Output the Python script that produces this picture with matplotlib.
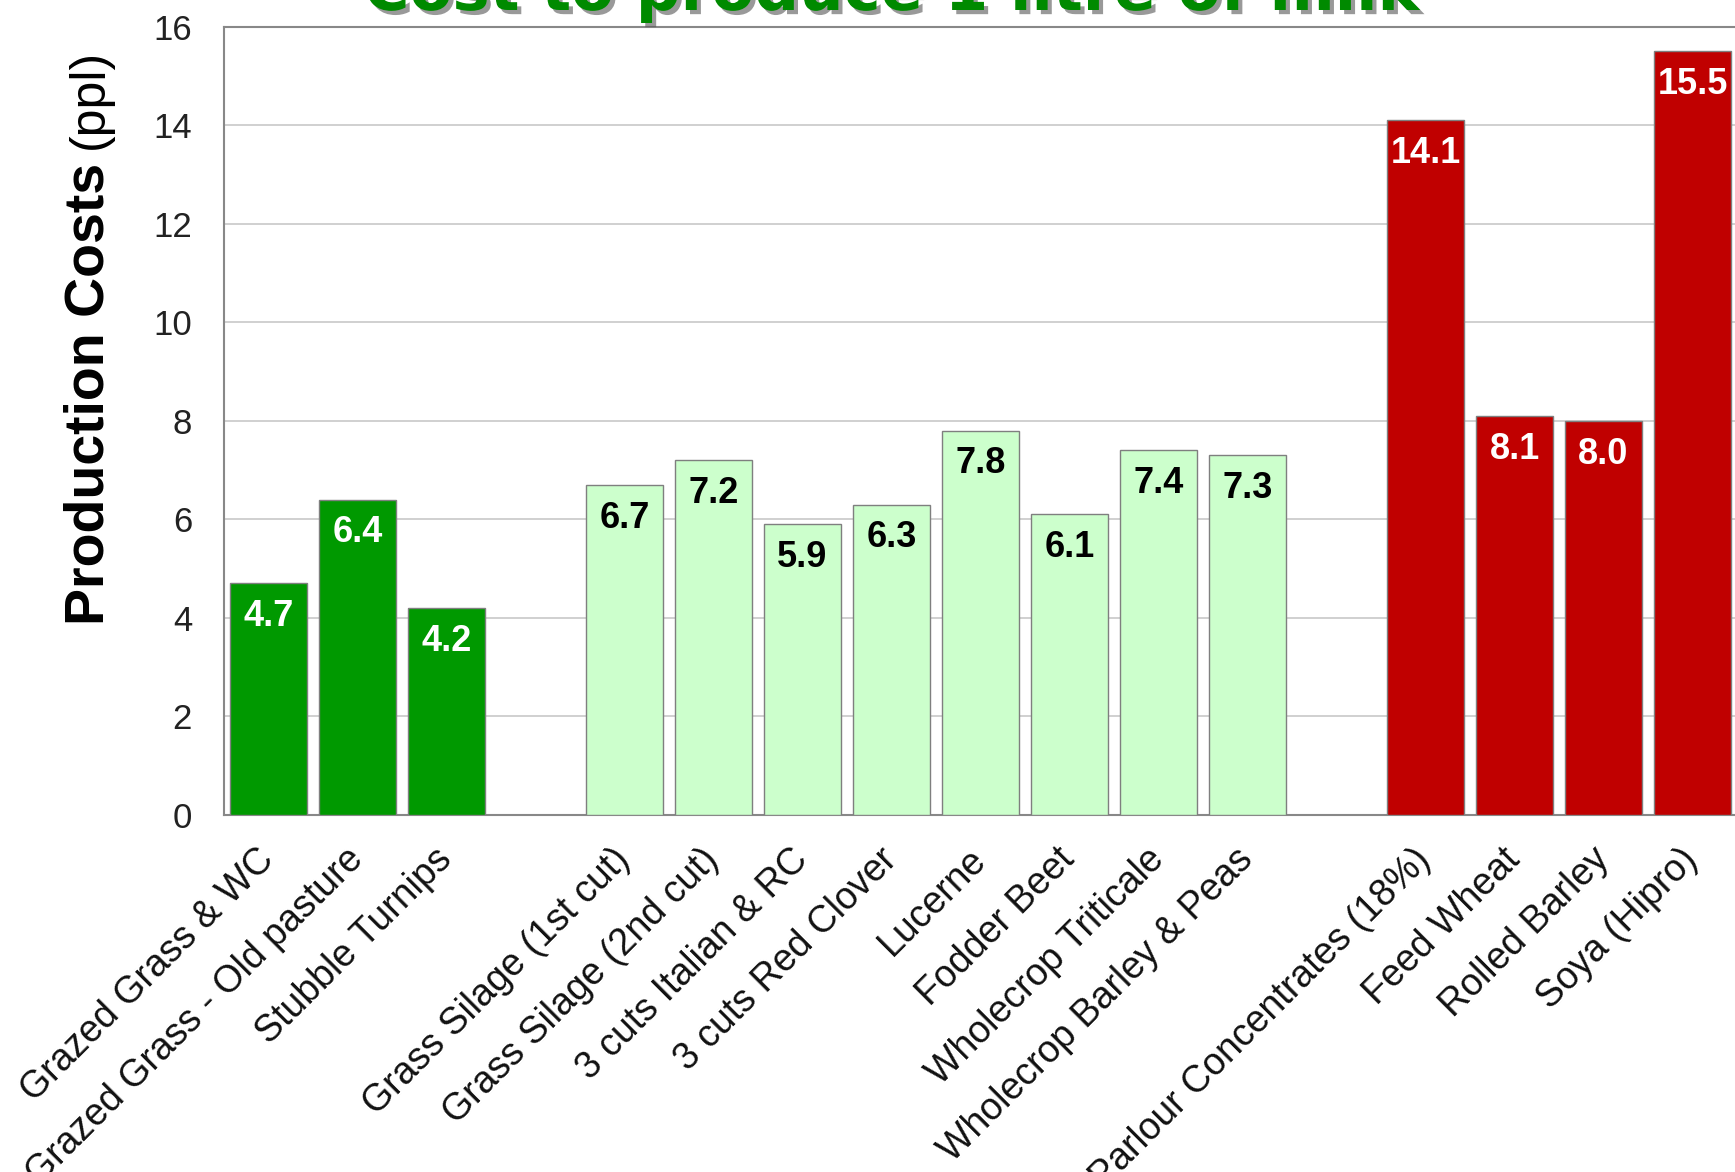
import matplotlib
matplotlib.use("Agg")
import matplotlib.pyplot as plt
import matplotlib.patheffects as pe

# ---- data ----
categories = [
    "Grazed Grass & WC", "Grazed Grass - Old pasture", "Stubble Turnips",
    "Grass Silage (1st cut)", "Grass Silage (2nd cut)", "3 cuts Italian & RC",
    "3 cuts Red Clover", "Lucerne", "Fodder Beet", "Wholecrop Triticale",
    "Wholecrop Barley & Peas",
    "Parlour Concentrates (18%)", "Feed Wheat", "Rolled Barley", "Soya (Hipro)",
]
values = [4.7, 6.4, 4.2, 6.7, 7.2, 5.9, 6.3, 7.8, 6.1, 7.4, 7.3, 14.1, 8.1, 8.0, 15.5]
groups = ["grazed"] * 3 + ["forage"] * 8 + ["bought"] * 4
positions = [0, 1, 2, 4, 5, 6, 7, 8, 9, 10, 11, 13, 14, 15, 16]
yticks = [0, 2, 4, 6, 8, 10, 12, 14, 16]
title = "Cost to produce 1 litre of milk"

group_color = {"grazed": "#009900", "forage": "#ccffcc", "bought": "#c00000"}
label_color = {"grazed": "white", "forage": "black", "bought": "white"}

W, H = 1735, 1172
fig = plt.figure(figsize=(W / 100, H / 100), dpi=100)
plt.rcParams['font.family'] = ['Liberation Sans', 'DejaVu Sans']

ax = fig.add_axes([224 / W, 1 - 815 / H, (1737 - 224) / W, (815 - 26.5) / H])

colors = [group_color[g] for g in groups]
ax.bar(positions, values, width=0.87, color=colors, edgecolor="#7f7f7f",
       linewidth=1.0, zorder=3)

for x, v, g in zip(positions, values, groups):
    ax.annotate(f"{v:.1f}", xy=(x, v), xytext=(0, -24), textcoords="offset points",
                ha="center", va="center", fontsize=26, fontweight="bold",
                color=label_color[g], zorder=4)

ax.set_xlim(-0.5, 16.5)
ax.set_ylim(0, 16)
ax.set_yticks(yticks)
ax.set_yticklabels([str(t) for t in yticks], fontsize=25, color="#222222")
ax.tick_params(axis="y", length=0, pad=23)
ax.set_xticks(positions)
ax.set_xticklabels(categories, fontsize=27, rotation=45, ha="right",
                   rotation_mode="anchor", va="center", color="#111111")
ax.tick_params(axis="x", length=0, pad=28)

ax.grid(axis="y", color="#c8c8c8", linewidth=1.2, zorder=0)
ax.set_axisbelow(True)
for s in ax.spines.values():
    s.set_color("#888888")
    s.set_linewidth(1.5)

# y-axis label: bold part + normal part, sharing one baseline
fig.canvas.draw()
renderer = fig.canvas.get_renderer()
t1 = fig.text(103 / W, 1 - 625 / H, "Production Costs", rotation=90,
              rotation_mode="anchor", ha="left", va="baseline",
              fontsize=40, fontweight="bold", color="black")
bb = t1.get_window_extent(renderer)
t2 = fig.text(103 / W, (bb.y1 + 14) / H, "(ppl)", rotation=90,
              rotation_mode="anchor", ha="left", va="baseline",
              fontsize=36, color="black")

# title (partially cut off at top as in reference)
fig.text(891 / W, 1 - 10 / H, title, ha="center", va="baseline",
         fontsize=45, fontweight="bold", color="#008a00",
         family=["DejaVu Sans"],
         path_effects=[pe.withSimplePatchShadow(offset=(3, -3),
                                                shadow_rgbFace="#555555", alpha=0.6)])

fig.savefig("out.png", dpi=100)
